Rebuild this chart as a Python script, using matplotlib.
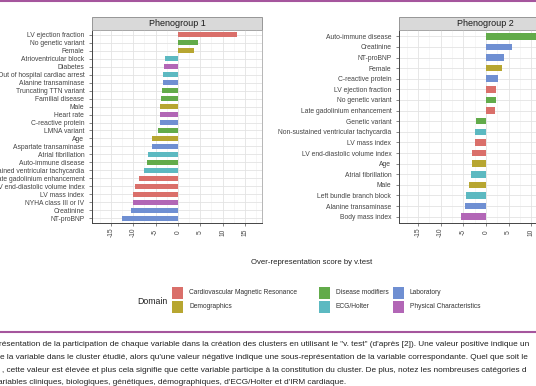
import numpy as np
import matplotlib.pyplot as plt
from matplotlib.patches import Rectangle
from matplotlib.lines import Line2D
from matplotlib import font_manager

plt.rcParams['font.family'] = ['Liberation Sans', 'DejaVu Sans']
plt.rcParams['axes.unicode_minus'] = False

W, H = 536, 386


def fx(px):
    return px / W


def fy(py):
    return 1 - py / H


# Domains and colours
domain_keys = ['CMR', 'Demo', 'Dis', 'ECG', 'Lab', 'Phys']
domain_labels = ['Cardiovascular Magnetic Resonance', 'Demographics', 'Disease modifiers',
                 'ECG/Holter', 'Laboratory', 'Physical Characteristics']
domain_colors = ['#DA6F6A', '#B7A631', '#62AB4A', '#5CB9C1', '#6F8FD2', '#B266B6']
col_of = dict(zip(domain_keys, domain_colors))

# Phenogroup 1 (top to bottom)
pg1_vars = ['LV ejection fraction', 'No genetic variant', 'Female', 'Atrioventricular block',
            'Diabetes', 'Out of hospital cardiac arrest', 'Alanine transaminase',
            'Truncating TTN variant', 'Familial disease', 'Male', 'Heart rate',
            'C-reactive protein', 'LMNA variant', 'Age', 'Aspartate transaminase',
            'Atrial fibrillation', 'Auto-immune disease',
            'Non-sustained ventricular tachycardia', 'Late gadolinium enhancement',
            'LV end-diastolic volume index', 'LV mass index', 'NYHA class III or IV',
            'Creatinine', 'NT-proBNP']
pg1_vals = [13.3, 4.4, 3.7, -2.8, -3.0, -3.3, -3.3, -3.6, -3.7, -3.9, -3.9, -4.1, -4.4,
            -5.8, -5.9, -6.6, -7.0, -7.6, -8.7, -9.5, -10.1, -10.1, -10.5, -12.6]
pg1_dom = ['CMR', 'Dis', 'Demo', 'ECG', 'Phys', 'ECG', 'Lab', 'Dis', 'Dis', 'Demo', 'Phys',
           'Lab', 'Dis', 'Demo', 'Lab', 'ECG', 'Dis', 'ECG', 'CMR', 'CMR', 'CMR', 'Phys',
           'Lab', 'Lab']

# Phenogroup 2 (top to bottom)
pg2_vars = ['Auto-immune disease', 'Creatinine', 'NT-proBNP', 'Female', 'C-reactive protein',
            'LV ejection fraction', 'No genetic variant', 'Late gadolinium enhancement',
            'Genetic variant', 'Non-sustained ventricular tachycardia', 'LV mass index',
            'LV end-diastolic volume index', 'Age', 'Atrial fibrillation', 'Male',
            'Left bundle branch block', 'Alanine transaminase', 'Body mass index']
pg2_vals = [12.8, 5.7, 3.9, 3.6, 2.6, 2.3, 2.2, 2.1, -2.1, -2.4, -2.5, -3.0, -3.1, -3.2,
            -3.7, -4.3, -4.6, -5.4]
pg2_dom = ['Dis', 'Lab', 'Lab', 'Demo', 'Lab', 'CMR', 'Dis', 'CMR', 'Dis', 'ECG', 'CMR',
           'CMR', 'Demo', 'ECG', 'Demo', 'ECG', 'Lab', 'Phys']

xticks = [-15, -10, -5, 0, 5, 10, 15]

caption = [
    "résentation de la participation de chaque variable dans la création des clusters en utilisant le \"v. test\" (d'après [2]). Une valeur positive indique un",
    "e la variable dans le cluster étudié, alors qu'une valeur négative indique une sous-représentation de la variable correspondante. Quel que soit le",
    ", cette valeur est élevée et plus cela signifie que cette variable participe à la constitution du cluster. De plus, notez les nombreuses catégories d",
    "ariables cliniques, biologiques, génétiques, démographiques, d'ECG/Holter et d'IRM cardiaque.",
]

fig = plt.figure(figsize=(W / 100, H / 100), dpi=100)

panels = [('Phenogroup 1', pg1_vars, pg1_vals, pg1_dom, 92, 262),
          ('Phenogroup 2', pg2_vars, pg2_vals, pg2_dom, 399, 571)]
top, bottom = 30, 223

for title, names, vals, doms, left, right in panels:
    ax = fig.add_axes([fx(left), fy(bottom), (right - left) / W, (bottom - top) / H])
    n = len(names)
    y = np.arange(n)
    ax.barh(y, vals, height=0.62, color=[col_of[d] for d in doms], zorder=3)
    ax.set_ylim(n - 0.4, -0.6)
    ax.set_xlim(-19.2, 18.8)
    ax.set_yticks(y)
    ax.set_yticklabels(names, fontsize=4.9, color='#444444')
    ax.set_xticks(xticks)
    ax.set_xticklabels([str(t) for t in xticks], fontsize=4.8, color='#444444',
                       rotation=90, va='center')
    ax.set_xticks(np.arange(-17.5, 18, 5), minor=True)
    ax.tick_params(axis='both', length=2, width=0.5, color='#555555')
    ax.tick_params(axis='x', pad=4.5)
    ax.tick_params(axis='x', which='minor', length=0)
    ax.grid(True, which='major', color='#E3E3E3', lw=0.6, zorder=0)
    ax.grid(True, which='minor', axis='x', color='#EFEFEF', lw=0.4, zorder=0)
    for s in ['top', 'right']:
        ax.spines[s].set_color('#AAAAAA')
        ax.spines[s].set_linewidth(0.6)
    for s in ['left', 'bottom']:
        ax.spines[s].set_color('#444444')
        ax.spines[s].set_linewidth(0.7)
    sh = 13 / (bottom - top)
    ax.add_patch(Rectangle((0, 1), 1, sh, transform=ax.transAxes, clip_on=False,
                           facecolor='#D9D9D9', edgecolor='#888888', lw=0.6))
    ax.text(0.5, 1 + sh / 2, title, transform=ax.transAxes, ha='center', va='center',
            fontsize=6.5, color='#1A1A1A')

fig.text(fx(312), fy(263), 'Over-representation score by v.test', ha='center',
         va='center', fontsize=5.6, color='#222222')

# legend
fig.text(fx(137), fy(302), 'Domain', ha='left', va='center', fontsize=6.3, color='#222222')
key_x = [172, 319, 393]
key_y = [287, 301]
for i, (lab, c) in enumerate(zip(domain_labels, domain_colors)):
    kx, ky = key_x[i // 2], key_y[i % 2]
    fig.patches.append(Rectangle((fx(kx), fy(ky + 12)), 11 / W, 12 / H, transform=fig.transFigure,
                                 facecolor=c, edgecolor='none'))
    fig.text(fx(kx + 17), fy(ky + 6), lab, ha='left', va='center', fontsize=4.8, color='#333333')

# purple rules
fig.add_artist(Line2D([0, 1], [fy(1), fy(1)], color='#A5559D', lw=1.5))
fig.add_artist(Line2D([0, 1], [fy(332), fy(332)], color='#A5559D', lw=1.5))

# caption
avail = {f.name for f in font_manager.fontManager.ttflist}
cap_font = 'Liberation Sans Narrow' if 'Liberation Sans Narrow' in avail else 'Liberation Sans'
cap_y = [345, 357.5, 370, 382.5]
cap_x = [-1, 0, 2, -2]
caps = []
for txt, yy, xx in zip(caption, cap_y, cap_x):
    caps.append(fig.text(fx(xx), fy(yy), txt, ha='left', va='center', fontsize=6,
                         family=[cap_font, 'DejaVu Sans'], color='#222222'))
fig.canvas.draw()
w = caps[0].get_window_extent(fig.canvas.get_renderer()).width
size = 6 * 538 / w
for t in caps:
    t.set_fontsize(size)

fig.savefig('out.png', dpi=100)
